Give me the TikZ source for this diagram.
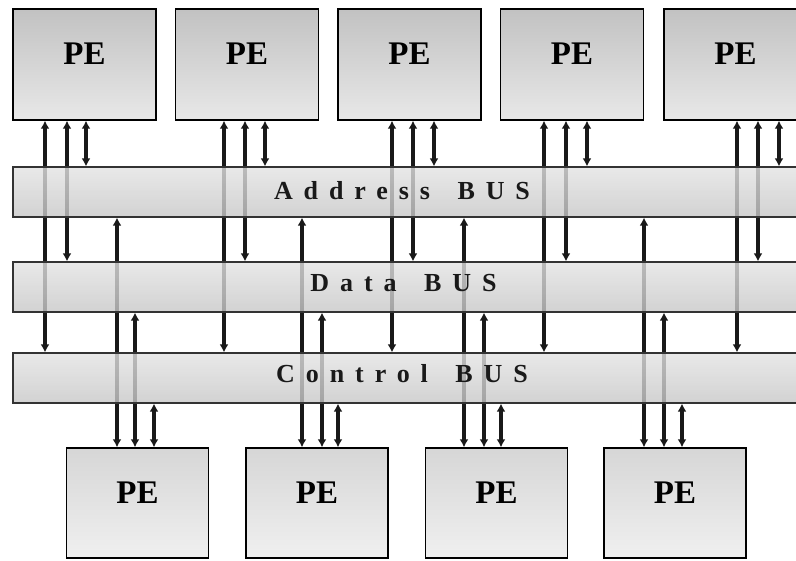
\documentclass[tikz,border=0pt]{standalone}
\usepackage{fontspec}
\setmainfont{Liberation Serif}
\newfontfamily\busfont[LetterSpace=42]{Liberation Serif}
\usetikzlibrary{arrows.meta,backgrounds}

\begin{document}
\begin{tikzpicture}[x=1pt,y=-1pt,
  pebox/.style={draw=black, line width=1.4pt, inner sep=0pt,
    minimum width=143pt, minimum height=111pt,
    top color=black!24, bottom color=black!9,
    font=\fontsize{33}{33}\selectfont\bfseries,
    text height=22pt, text depth=21pt},
  lowbox/.style={pebox, minimum width=142pt, minimum height=110pt,
    top color=black!16, bottom color=black!6},
  bus/.style={draw=black!80, line width=1.2pt, inner sep=0pt,
    minimum width=817pt, minimum height=50pt,
    top color=black!11, bottom color=black!22, fill opacity=0.8},
  buslabel/.style={inner sep=0pt, text height=17pt, text depth=0pt,
    font=\busfont\bfseries\fontsize{26}{26}\selectfont, text=black!90},
  link/.style={line width=3.3pt, draw=black!90,
    {Latex[length=8pt,width=9pt]}-{Latex[length=8pt,width=9pt]}}
]
\useasboundingbox (0,0) rectangle (796,561);
\clip (0,0) rectangle (796,561);

% processing elements above the buses
\node[pebox] (t1) at (84.5,64.5) {PE};
\node[pebox] (t2) at (247,64.5) {PE};
\node[pebox] (t3) at (409.5,64.5) {PE};
\node[pebox] (t4) at (572,64.5) {PE};
\node[pebox] (t5) at (735.5,64.5) {PE};

% the three shared buses
\node[bus] (addr) at (421.5,192) {};
\node[bus] (data) at (421.5,287) {};
\node[bus] (ctrl) at (421.5,378) {};
\node[buslabel] (addrlbl) at (402,191.5) {Address\hspace{10pt} BUS};
\node[buslabel] (datalbl) at (403.5,283.5) {Data\hspace{10pt} BUS};
\node[buslabel] (ctrllbl) at (402,374) {Control\hspace{10pt} BUS};

% processing elements below the buses
\node[lowbox] (b1) at (137.5,503) {PE};
\node[lowbox] (b2) at (317,503) {PE};
\node[lowbox] (b3) at (496.5,503) {PE};
\node[lowbox] (b4) at (675,503) {PE};

% bus connections, running behind the translucent bus bars
\begin{scope}[on background layer]
  \foreach \pe/\x/\tgt in {t1/45/ctrl, t1/67/data, t1/86/addr,
      t2/224/ctrl, t2/245/data, t2/265/addr,
      t3/392/ctrl, t3/413/data, t3/434/addr,
      t4/544/ctrl, t4/566/data, t4/587/addr,
      t5/737/ctrl, t5/758/data, t5/779/addr}
    \draw[link] (\x,0 |- \pe.south) -- (\x,0 |- \tgt.north);
  \foreach \pe/\x/\src in {b1/117/addr, b1/135/data, b1/154/ctrl,
      b2/302/addr, b2/322/data, b2/338/ctrl,
      b3/464/addr, b3/484/data, b3/501/ctrl,
      b4/644/addr, b4/664/data, b4/682/ctrl}
    \draw[link] (\x,0 |- \src.south) -- (\x,0 |- \pe.north);
\end{scope}
\end{tikzpicture}
\end{document}
